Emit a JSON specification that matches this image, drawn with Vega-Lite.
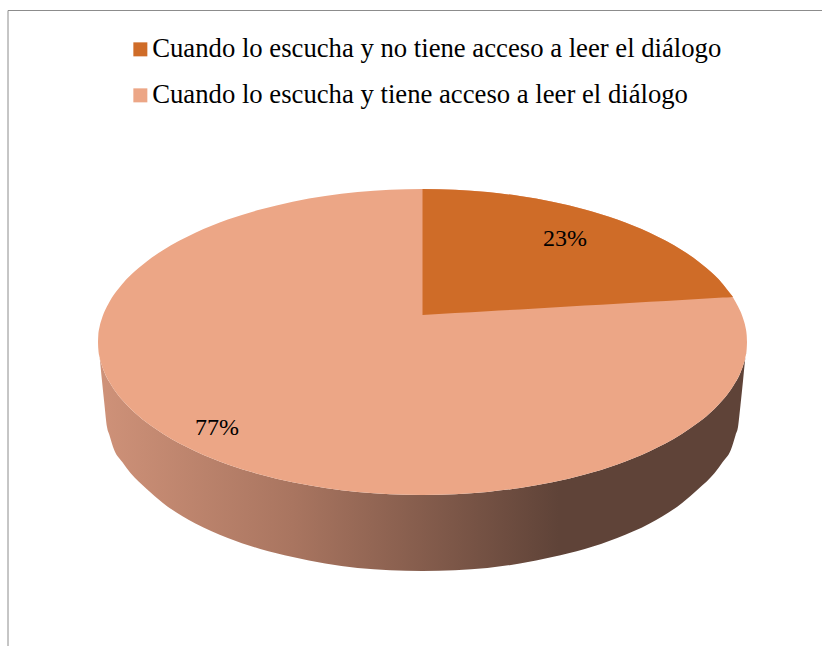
{"$schema":"https://vega.github.io/schema/vega-lite/v6.json","width":822,"height":646,"autosize":{"type":"fit","contains":"padding"},"padding":0,"background":"white","view":{"stroke":null},
"datasets":{
"wall":[{"x":98,"y":342,"y2":342},{"x":98.3,"y":348.8,"y2":348.8},{"x":99.6,"y":357.3,"y2":357.3},{"x":101.9,"y":365.6,"y2":380},{"x":104.5,"y":372.4,"y2":405},{"x":107,"y":378,"y2":427},{"x":109.4,"y":382.1,"y2":435},{"x":114.2,"y":389.7,"y2":450},{"x":122.3,"y":400.1,"y2":462},{"x":130.5,"y":408.7,"y2":473},{"x":146.7,"y":422.6,"y2":489},{"x":162.9,"y":433.8,"y2":503},{"x":195.4,"y":451.2,"y2":523.5},{"x":227.8,"y":464.4,"y2":538},{"x":260.3,"y":474.5,"y2":549},{"x":292.7,"y":482.3,"y2":557},{"x":325.2,"y":488,"y2":563.5},{"x":357.6,"y":491.9,"y2":568},{"x":390,"y":494.2,"y2":570.2},{"x":422.5,"y":495,"y2":571},{"x":455,"y":494.2,"y2":570.2},{"x":487.4,"y":491.9,"y2":568},{"x":519.9,"y":488,"y2":563.5},{"x":552.3,"y":482.3,"y2":557},{"x":584.8,"y":474.5,"y2":549},{"x":617.2,"y":464.4,"y2":538},{"x":649.7,"y":451.2,"y2":523.5},{"x":682.1,"y":433.8,"y2":503},{"x":698.3,"y":422.6,"y2":489},{"x":714.6,"y":408.7,"y2":473},{"x":722.7,"y":400.1,"y2":462},{"x":730.8,"y":389.7,"y2":450},{"x":735.6,"y":382.1,"y2":435},{"x":738,"y":378,"y2":427},{"x":740.5,"y":372.4,"y2":405},{"x":743.1,"y":365.6,"y2":380},{"x":745.4,"y":357.3,"y2":357.3},{"x":746.7,"y":348.8,"y2":348.8},{"x":747,"y":342,"y2":342}],
"light":[{"x":98,"y":342,"y2":342,"serie":"Cuando lo escucha y tiene acceso a leer el diálogo"},{"x":98.3,"y":335.2,"y2":348.8,"serie":"Cuando lo escucha y tiene acceso a leer el diálogo"},{"x":99.6,"y":326.7,"y2":357.3,"serie":"Cuando lo escucha y tiene acceso a leer el diálogo"},{"x":101.9,"y":318.4,"y2":365.6,"serie":"Cuando lo escucha y tiene acceso a leer el diálogo"},{"x":104.5,"y":311.6,"y2":372.4,"serie":"Cuando lo escucha y tiene acceso a leer el diálogo"},{"x":109.4,"y":301.9,"y2":382.1,"serie":"Cuando lo escucha y tiene acceso a leer el diálogo"},{"x":114.2,"y":294.3,"y2":389.7,"serie":"Cuando lo escucha y tiene acceso a leer el diálogo"},{"x":122.3,"y":283.9,"y2":400.1,"serie":"Cuando lo escucha y tiene acceso a leer el diálogo"},{"x":130.5,"y":275.3,"y2":408.7,"serie":"Cuando lo escucha y tiene acceso a leer el diálogo"},{"x":146.7,"y":261.4,"y2":422.6,"serie":"Cuando lo escucha y tiene acceso a leer el diálogo"},{"x":162.9,"y":250.2,"y2":433.8,"serie":"Cuando lo escucha y tiene acceso a leer el diálogo"},{"x":195.4,"y":232.8,"y2":451.2,"serie":"Cuando lo escucha y tiene acceso a leer el diálogo"},{"x":227.8,"y":219.6,"y2":464.4,"serie":"Cuando lo escucha y tiene acceso a leer el diálogo"},{"x":260.3,"y":209.5,"y2":474.5,"serie":"Cuando lo escucha y tiene acceso a leer el diálogo"},{"x":292.7,"y":201.7,"y2":482.3,"serie":"Cuando lo escucha y tiene acceso a leer el diálogo"},{"x":325.2,"y":196,"y2":488,"serie":"Cuando lo escucha y tiene acceso a leer el diálogo"},{"x":357.6,"y":192.1,"y2":491.9,"serie":"Cuando lo escucha y tiene acceso a leer el diálogo"},{"x":390,"y":189.8,"y2":494.2,"serie":"Cuando lo escucha y tiene acceso a leer el diálogo"},{"x":422.5,"y":189,"y2":495,"serie":"Cuando lo escucha y tiene acceso a leer el diálogo"},{"x":455,"y":189.8,"y2":494.2,"serie":"Cuando lo escucha y tiene acceso a leer el diálogo"},{"x":487.4,"y":192.1,"y2":491.9,"serie":"Cuando lo escucha y tiene acceso a leer el diálogo"},{"x":519.9,"y":196,"y2":488,"serie":"Cuando lo escucha y tiene acceso a leer el diálogo"},{"x":552.3,"y":201.7,"y2":482.3,"serie":"Cuando lo escucha y tiene acceso a leer el diálogo"},{"x":584.8,"y":209.5,"y2":474.5,"serie":"Cuando lo escucha y tiene acceso a leer el diálogo"},{"x":617.2,"y":219.6,"y2":464.4,"serie":"Cuando lo escucha y tiene acceso a leer el diálogo"},{"x":649.7,"y":232.8,"y2":451.2,"serie":"Cuando lo escucha y tiene acceso a leer el diálogo"},{"x":682.1,"y":250.2,"y2":433.8,"serie":"Cuando lo escucha y tiene acceso a leer el diálogo"},{"x":698.3,"y":261.4,"y2":422.6,"serie":"Cuando lo escucha y tiene acceso a leer el diálogo"},{"x":714.6,"y":275.3,"y2":408.7,"serie":"Cuando lo escucha y tiene acceso a leer el diálogo"},{"x":722.7,"y":283.9,"y2":400.1,"serie":"Cuando lo escucha y tiene acceso a leer el diálogo"},{"x":730.8,"y":294.3,"y2":389.7,"serie":"Cuando lo escucha y tiene acceso a leer el diálogo"},{"x":735.6,"y":301.9,"y2":382.1,"serie":"Cuando lo escucha y tiene acceso a leer el diálogo"},{"x":740.5,"y":311.6,"y2":372.4,"serie":"Cuando lo escucha y tiene acceso a leer el diálogo"},{"x":743.1,"y":318.4,"y2":365.6,"serie":"Cuando lo escucha y tiene acceso a leer el diálogo"},{"x":745.4,"y":326.7,"y2":357.3,"serie":"Cuando lo escucha y tiene acceso a leer el diálogo"},{"x":746.7,"y":335.2,"y2":348.8,"serie":"Cuando lo escucha y tiene acceso a leer el diálogo"},{"x":747,"y":342,"y2":342,"serie":"Cuando lo escucha y tiene acceso a leer el diálogo"}],
"dark":[{"x":422.5,"y":189,"y2":315,"serie":"Cuando lo escucha y no tiene acceso a leer el diálogo"},{"x":455,"y":189.8,"y2":313.1,"serie":"Cuando lo escucha y no tiene acceso a leer el diálogo"},{"x":487.4,"y":192.1,"y2":311.2,"serie":"Cuando lo escucha y no tiene acceso a leer el diálogo"},{"x":519.9,"y":196,"y2":309.4,"serie":"Cuando lo escucha y no tiene acceso a leer el diálogo"},{"x":552.3,"y":201.7,"y2":307.5,"serie":"Cuando lo escucha y no tiene acceso a leer el diálogo"},{"x":584.8,"y":209.5,"y2":305.6,"serie":"Cuando lo escucha y no tiene acceso a leer el diálogo"},{"x":617.2,"y":219.6,"y2":303.7,"serie":"Cuando lo escucha y no tiene acceso a leer el diálogo"},{"x":649.7,"y":232.8,"y2":301.8,"serie":"Cuando lo escucha y no tiene acceso a leer el diálogo"},{"x":682.1,"y":250.2,"y2":300,"serie":"Cuando lo escucha y no tiene acceso a leer el diálogo"},{"x":698.3,"y":261.4,"y2":299,"serie":"Cuando lo escucha y no tiene acceso a leer el diálogo"},{"x":714.6,"y":275.3,"y2":298.1,"serie":"Cuando lo escucha y no tiene acceso a leer el diálogo"},{"x":722.7,"y":283.9,"y2":297.6,"serie":"Cuando lo escucha y no tiene acceso a leer el diálogo"},{"x":730.8,"y":294.3,"y2":297.2,"serie":"Cuando lo escucha y no tiene acceso a leer el diálogo"},{"x":733,"y":297,"y2":297,"serie":"Cuando lo escucha y no tiene acceso a leer el diálogo"}]
},
"encoding":{
"x":{"field":"x","type":"quantitative","axis":null,"scale":{"domain":[0,822],"nice":false,"zero":false}},
"y":{"field":"y","type":"quantitative","axis":null,"scale":{"domain":[0,646],"reverse":true,"nice":false,"zero":false}}
},
"layer":[
{"data":{"values":[{"x":8,"y":646,"o":1},{"x":8,"y":10.5,"o":2},{"x":822,"y":10.5,"o":3}]},"mark":{"type":"line","stroke":"#8c8c8c","strokeWidth":1,"interpolate":"linear","clip":true},"encoding":{"order":{"field":"o","type":"quantitative"}}},
{"data":{"name":"wall"},"mark":{"type":"area","interpolate":"monotone","color":{"gradient":"linear","x1":0,"y1":0,"x2":1,"y2":0,"stops":[{"offset":0,"color":"#cf9279"},{"offset":0.3,"color":"#a97560"},{"offset":0.71,"color":"#5f4338"},{"offset":1,"color":"#5f4338"}]}},"encoding":{"y2":{"field":"y2"}}},
{"data":{"name":"light"},"mark":{"type":"area","interpolate":"monotone"},"encoding":{"y2":{"field":"y2"},"color":{"field":"serie","type":"nominal"}}},
{"data":{"name":"dark"},"mark":{"type":"area","interpolate":"monotone"},"encoding":{"y2":{"field":"y2"},"color":{"field":"serie","type":"nominal","scale":{"domain":["Cuando lo escucha y no tiene acceso a leer el diálogo","Cuando lo escucha y tiene acceso a leer el diálogo"],"range":["#cf6c28","#eca686"]},"legend":{"title":null,"orient":"none","legendX":127,"legendY":36,"symbolType":"square","symbolSize":196,"symbolStrokeWidth":0,"symbolOpacity":1,"labelFont":"Liberation Serif","labelFontSize":26.7,"labelColor":"#000000","labelLimit":700,"rowPadding":18,"labelOffset":-1.5,"padding":0}}}},
{"data":{"values":[{"x":565,"y":239,"etiqueta":"23%"},{"x":217,"y":428,"etiqueta":"77%"}]},"mark":{"type":"text","font":"Liberation Serif","fontSize":24,"color":"#000000","align":"center","baseline":"middle"},"encoding":{"text":{"field":"etiqueta","type":"nominal"}}}
]}
